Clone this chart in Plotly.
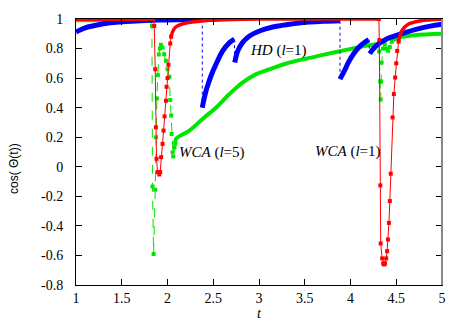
import plotly.graph_objects as go

# blue curve (HD, l=1): smooth segments, jumps drawn as thin dotted lines
blue_t1 = [1.0, 1.1, 1.18, 1.3, 1.47, 1.7, 1.91, 2.1, 2.38]
blue_y1 = [0.912, 0.94, 0.953, 0.968, 0.98, 0.988, 0.993, 0.995, 0.996]
blue_t2 = [2.38, 2.40, 2.421, 2.45, 2.476, 2.531, 2.603, 2.677, 2.731]
blue_y2 = [0.40, 0.46, 0.514, 0.57, 0.616, 0.695, 0.784, 0.84, 0.863]
blue_t3 = [2.735, 2.768, 2.82, 2.896, 3.005, 3.15, 3.33, 3.52, 3.7, 3.885]
blue_y3 = [0.705, 0.784, 0.84, 0.885, 0.919, 0.946, 0.964, 0.978, 0.984, 0.988]
blue_t4 = [3.885, 3.93, 3.98, 4.04, 4.11, 4.2]
blue_y4 = [0.593, 0.645, 0.71, 0.77, 0.82, 0.86]
blue_t5 = [4.21, 4.28, 4.39, 4.54, 4.76, 5.0]
blue_y5 = [0.766, 0.818, 0.863, 0.897, 0.937, 0.964]

# red curve (WCA, l=1)
red_t1 = [1.0, 1.847]
red_y1 = [1.0, 1.0]
red_dip_t1 = [1.847, 1.855, 1.866, 1.873, 1.88, 1.891, 1.91, 1.92, 1.93, 1.946, 1.957,
              1.968, 1.983, 1.99, 2.0, 2.01, 2.03, 2.04]
red_dip_y1 = [1.0, 0.953, 0.66, 0.267, 0.054, -0.036, -0.052, -0.036, 0.065, 0.155, 0.245,
              0.341, 0.447, 0.541, 0.6, 0.69, 0.834, 0.88]
red_t2 = [2.04, 2.055, 2.09, 2.17, 2.35, 2.46, 2.7, 3.0, 4.31]
red_y2 = [0.88, 0.913, 0.946, 0.968, 0.985, 0.991, 0.997, 1.0, 1.0]
red_dip_t2 = [4.31, 4.315, 4.326, 4.33, 4.346, 4.357, 4.367, 4.377, 4.39, 4.40, 4.41, 4.42,
              4.43, 4.44, 4.46, 4.474, 4.488, 4.5, 4.51, 4.525]
red_dip_y2 = [1.0, 0.857, -0.126, -0.519, -0.62, -0.654, -0.661, -0.654, -0.62, -0.571, -0.492,
              -0.38, -0.232, -0.047, 0.334, 0.492, 0.604, 0.70, 0.784, 0.847]
red_t3 = [4.525, 4.56, 4.63, 4.76, 5.0]
red_y3 = [0.847, 0.919, 0.964, 0.987, 0.998]

# green curve (WCA, l=5)
green_t1 = [1.0, 1.826]
green_y1 = [0.988, 0.988]
green_dip_t1 = [1.826, 1.83, 1.836, 1.848, 1.866, 1.875, 1.884, 1.895, 1.905, 1.918, 1.928,
                1.946, 1.964, 1.983, 2.0, 2.02, 2.03, 2.04, 2.045, 2.056, 2.063, 2.075, 2.085]
green_dip_y1 = [0.988, 0.953, -0.133, -0.59, -0.155, 0.2, 0.463, 0.62, 0.76, 0.80, 0.825,
                0.807, 0.762, 0.717, 0.66, 0.609, 0.452, 0.346, 0.222, 0.098, 0.07, 0.13, 0.155]
green_t2 = [2.085, 2.093, 2.24, 2.384, 2.53, 2.677, 2.82, 2.97, 3.115, 3.30, 3.48, 3.70,
            3.99, 4.16, 4.31]
green_y2 = [0.155, 0.189, 0.245, 0.324, 0.40, 0.492, 0.57, 0.627, 0.66, 0.699, 0.727, 0.757,
            0.796, 0.818, 0.833]
green_dip_t2 = [4.31, 4.313, 4.325, 4.33, 4.335, 4.34, 4.355, 4.375, 4.395, 4.41, 4.43, 4.45, 4.47]
green_dip_y2 = [0.833, 0.78, 0.577, 0.455, 0.577, 0.705, 0.80, 0.829, 0.80, 0.785, 0.81, 0.845, 0.86]
green_t3 = [4.47, 4.52, 4.7, 5.0]
green_y3 = [0.86, 0.874, 0.89, 0.9]

BLUE = "#0000ff"
RED = "#ff0000"
GREEN = "#00e600"

fig = go.Figure()


def thick(t, y, color, w):
    fig.add_trace(go.Scatter(x=t, y=y, mode="lines", line=dict(color=color, width=w, shape="spline"),
                             hoverinfo="skip", showlegend=False))


def dip(t, y, color, dash):
    fig.add_trace(go.Scatter(x=t, y=y, mode="lines+markers",
                             line=dict(color=color, width=1, dash=dash),
                             marker=dict(color=color, size=4, symbol="square"),
                             hoverinfo="skip", showlegend=False))


# green
thick(green_t1, green_y1, GREEN, 3)
dip(green_dip_t1, green_dip_y1, GREEN, "dash")
thick(green_t2, green_y2, GREEN, 4)
dip(green_dip_t2, green_dip_y2, GREEN, "dash")
thick(green_t3, green_y3, GREEN, 4)

# blue: dotted connectors between segments, then thick segments
segs = [(blue_t1, blue_y1), (blue_t2, blue_y2), (blue_t3, blue_y3), (blue_t4, blue_y4), (blue_t5, blue_y5)]
for a, b in zip(segs[:-1], segs[1:]):
    fig.add_trace(go.Scatter(x=[a[0][-1], b[0][0]], y=[a[1][-1], b[1][0]], mode="lines",
                             line=dict(color=BLUE, width=1, dash="dot"),
                             hoverinfo="skip", showlegend=False))
for t, y in segs:
    thick(t, y, BLUE, 5)

# red
thick(red_t1, red_y1, RED, 4)
dip(red_dip_t1, red_dip_y1, RED, "solid")
thick(red_t2, red_y2, RED, 3.5)
dip(red_dip_t2, red_dip_y2, RED, "solid")
thick(red_t3, red_y3, RED, 3.5)

serif = "Liberation Serif, Times New Roman, serif"
labels = [(2.88, 0.79, "<i>HD</i> (<i>l</i>=1)"),
          (2.10, 0.10, "<i>WCA</i> (<i>l</i>=5)"),
          (3.59, 0.105, "<i>WCA</i> (<i>l</i>=1)")]
for x, y, txt in labels:
    fig.add_annotation(x=x, y=y, text=txt, showarrow=False, xanchor="left", yanchor="middle",
                       font=dict(family=serif, size=15, color="black"))

fig.add_annotation(x=0.5, y=0, xref="paper", yref="paper", text="<i>t</i>", showarrow=False,
                   yshift=-28, yanchor="middle", font=dict(family=serif, size=14, color="black"))
fig.add_annotation(x=0, y=0.5, xref="paper", yref="paper", text="cos( Θ(t))", showarrow=False,
                   textangle=-90, xshift=-62, yshift=-17, xanchor="center",
                   font=dict(family="Liberation Sans, Arial, sans-serif", size=12, color="black"))

# right border is grey in the original
fig.add_shape(type="line", xref="paper", yref="paper", x0=1, x1=1, y0=0, y1=1,
              line=dict(color="#888888", width=2))

axis = dict(showgrid=False, zeroline=False, showline=True, linecolor="black", linewidth=1,
            mirror="allticks", ticks="inside", ticklen=6, tickcolor="black",
            tickfont=dict(family=serif, size=14, color="black"))

fig.update_xaxes(range=[1, 5], tickvals=[1, 1.5, 2, 2.5, 3, 3.5, 4, 4.5, 5],
                 ticktext=["1", "1.5", "2", "2.5", "3", "3.5", "4", "4.5", "5"],
                 ticklabelstandoff=0, **axis)
fig.update_yaxes(range=[-0.8, 1], tickvals=[-0.8, -0.6, -0.4, -0.2, 0, 0.2, 0.4, 0.6, 0.8, 1],
                 ticktext=["-0.8", "-0.6", "-0.4", "-0.2", "0", "0.2", "0.4", "0.6", "0.8", "1"],
                 ticklabelstandoff=9, **axis)

fig.update_layout(width=466, height=327, margin=dict(l=76, r=24, t=17, b=42),
                  plot_bgcolor="white", paper_bgcolor="white")

fig.write_html("out.html", config={"displayModeBar": False},
               post_script="document.body.style.margin='0';")
